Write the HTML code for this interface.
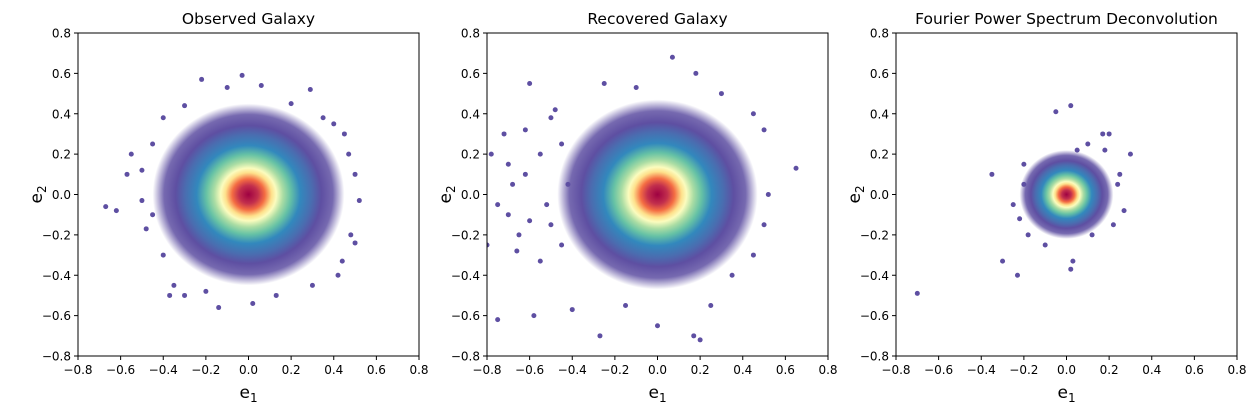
<!DOCTYPE html>
<html><head><meta charset="utf-8">
<style>
body{margin:0;background:#fff;width:1260px;height:413px;overflow:hidden}
svg text{font-family:"DejaVu Sans","Liberation Sans",sans-serif;fill:#000}
</style></head>
<body>
<svg id="fig" width="1260" height="413" xmlns="http://www.w3.org/2000/svg">
<defs>
<radialGradient id="dens">
<stop offset="0" stop-color="#9e0142"/>
<stop offset="0.1" stop-color="#c22f4d"/>
<stop offset="0.17" stop-color="#f46d43"/>
<stop offset="0.24" stop-color="#fee08b"/>
<stop offset="0.29" stop-color="#fbfcbe"/>
<stop offset="0.36" stop-color="#abdda4"/>
<stop offset="0.44" stop-color="#66c2a5"/>
<stop offset="0.54" stop-color="#3288bd"/>
<stop offset="0.66" stop-color="#4a6db0"/>
<stop offset="0.76" stop-color="#5e4fa2"/>
<stop offset="0.88" stop-color="#5e4fa2" stop-opacity="0.85"/>
<stop offset="1" stop-color="#5e4fa2" stop-opacity="0"/>
</radialGradient>
</defs>
</svg>
<script>
const ticks=[-0.8,-0.6,-0.4,-0.2,0.0,0.2,0.4,0.6,0.8];
const tickLabels=["−0.8","−0.6","−0.4","−0.2","0.0","0.2","0.4","0.6","0.8"];
const titles=["Observed Galaxy","Recovered Galaxy","Fourier Power Spectrum Deconvolution"];
const coreRadius=[0.45,0.47,0.22];
const coreCenterX=[0.0,0.0,0.0];
const coreCenterY=[0.0,0.0,0.0];
const outX1=[-0.67,-0.62,-0.55,-0.57,-0.5,-0.45,-0.5,-0.4,-0.35,-0.3,-0.22,-0.1,-0.03,0.06,0.2,0.45,0.5,0.52,0.48,0.42,0.3,-0.14,0.02,0.13,-0.4,0.4,0.35,-0.45,0.47,-0.2,0.29,-0.3,-0.37,0.44,0.5,-0.48];
const outY1=[-0.06,-0.08,0.2,0.1,0.12,-0.1,-0.03,0.38,-0.45,-0.5,0.57,0.53,0.59,0.54,0.45,0.3,0.1,-0.03,-0.2,-0.4,-0.45,-0.56,-0.54,-0.5,-0.3,0.35,0.38,0.25,0.2,-0.48,0.52,0.44,-0.5,-0.33,-0.24,-0.17];
const outX2=[-0.78,-0.75,-0.72,-0.7,-0.7,-0.68,-0.65,-0.62,-0.6,-0.58,-0.55,-0.52,-0.5,-0.48,-0.45,-0.75,-0.8,-0.55,-0.4,-0.27,-0.25,-0.1,0.07,0.18,0.3,0.45,0.5,0.65,0.52,0.5,0.45,0.35,0.17,0.2,0.0,-0.15,0.25,-0.6,-0.45,-0.5,-0.66,-0.42,-0.62];
const outY2=[0.2,-0.05,0.3,0.15,-0.1,0.05,-0.2,0.1,-0.13,-0.6,0.2,-0.05,0.38,0.42,-0.25,-0.62,-0.25,-0.33,-0.57,-0.7,0.55,0.53,0.68,0.6,0.5,0.4,0.32,0.13,0.0,-0.15,-0.3,-0.4,-0.7,-0.72,-0.65,-0.55,-0.55,0.55,0.25,-0.15,-0.28,0.05,0.32];
const outX3=[-0.7,-0.35,-0.3,-0.23,-0.2,-0.25,-0.05,0.02,0.1,0.17,0.2,0.3,0.25,0.27,0.22,0.03,0.02,-0.1,0.12,0.18,-0.18,-0.2,0.05,-0.22,0.24];
const outY3=[-0.49,0.1,-0.33,-0.4,0.15,-0.05,0.41,0.44,0.25,0.3,0.3,0.2,0.1,-0.08,-0.15,-0.33,-0.37,-0.25,-0.2,0.22,-0.2,0.05,0.22,-0.12,0.05];
const outXs=[outX1,outX2,outX3], outYs=[outY1,outY2,outY3];
const panelLeft=[78,487,896], W=341, topY=33, H=323;
const NS="http://www.w3.org/2000/svg";
const svg=document.getElementById('fig');
function mk(t,a,p){const e=document.createElementNS(NS,t);for(const k in a)e.setAttribute(k,a[k]);(p||svg).appendChild(e);return e;}
for(let p=0;p<3;p++){
  const L=panelLeft[p];
  const sx=v=>L+(v+0.8)/1.6*W, sy=v=>topY+(0.8-v)/1.6*H;
  const g=mk('g',{});
  
  
  const cp=mk('clipPath',{id:'c'+p},g);mk('rect',{x:L,y:topY,width:W,height:H},cp);
  const pg=mk('g',{'clip-path':'url(#c'+p+')'},g);
  const core=mk('ellipse',{cx:sx(coreCenterX[p]),cy:sy(coreCenterY[p]),rx:coreRadius[p]/1.6*W,ry:coreRadius[p]/1.6*H,fill:'url(#dens)'},pg);
  
  
  outXs[p].forEach((x,i)=>{
    const c=mk('circle',{cx:sx(x),cy:sy(outYs[p][i]),r:2.5,fill:'#5e4fa2'},pg);
    
    
  });
  const fr=mk('rect',{x:L,y:topY,width:W,height:H,fill:'none',stroke:'#000','stroke-width':1},g);
  
  
  ticks.forEach((t,i)=>{
    mk('line',{x1:sx(t),x2:sx(t),y1:topY+H,y2:topY+H+4,stroke:'#000'},g);
    const tx=mk('text',{x:sx(t),y:topY+H+18,'text-anchor':'middle','font-size':12},g);tx.textContent=tickLabels[i];
    
    
    mk('line',{x1:L-4,x2:L,y1:sy(t),y2:sy(t),stroke:'#000'},g);
    const ty=mk('text',{x:L-7,y:sy(t)+4.5,'text-anchor':'end','font-size':12},g);ty.textContent=tickLabels[i];
    
    
  });
  const ti=mk('text',{x:L+W/2,y:24,'text-anchor':'middle','font-size':15.5},g);ti.textContent=titles[p];
  
  
  const xl=mk('text',{x:L+W/2-9,y:398,'font-size':17},g);xl.innerHTML='e<tspan font-size="12" dy="4">1</tspan>';
  
  
  const yl=mk('text',{x:0,y:0,'font-size':17,transform:'translate('+(L-36)+','+(topY+H/2+9)+') rotate(-90)'},g);yl.innerHTML='e<tspan font-size="12" dy="4">2</tspan>';
  
  
}
</script>
</body></html>
